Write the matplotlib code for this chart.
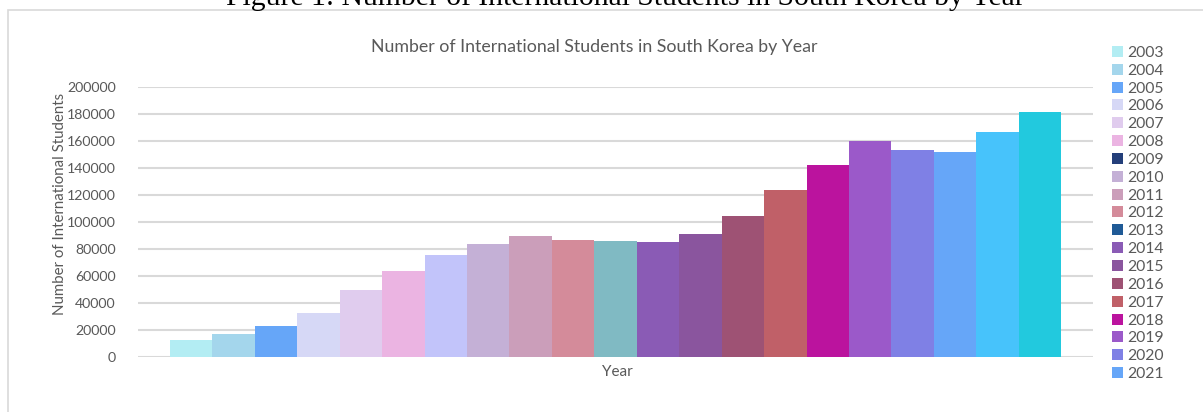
import matplotlib.pyplot as plt
from matplotlib.patches import Patch, Rectangle

years = [str(y) for y in range(2003, 2024)]
students = [12314, 16832, 22526, 32557, 49270, 63952, 75850, 83842, 89537, 86878,
            85923, 84891, 91332, 104262, 123858, 142205, 160165, 153695, 152281,
            166892, 181842]
bar_colors = ['#B3EDF3', '#A4D6EC', '#66A6F8', '#D6D8F6', '#E0CCEE', '#EBB4E2',
              '#C2C4FA', '#C4B0D6', '#CB9EBA', '#D48B9A', '#80BAC3', '#8A5BB5',
              '#8A559E', '#9E5274', '#C06068', '#BB139E', '#9B59C9', '#7F80E5',
              '#66A6F8', '#47C3FB', '#22C9DE']
# legend only has room for 2003-2021
legend_years = years[:19]
legend_colors = bar_colors[:19]
legend_colors[6] = '#243F7A'
legend_colors[10] = '#1F5A96'

grey = '#595959'
grid = '#D9D9D9'
font = 'Lato'

W, H = 1203, 412
fig = plt.figure(figsize=(W / 100, H / 100), dpi=100)

# outer chart frame
fig.patches.append(Rectangle((8 / W, -0.2), 1.2, 1.2 - 10 / H,
                             transform=fig.transFigure, fill=False,
                             edgecolor=grid, lw=1.2))

ax = fig.add_axes([138 / W, 1 - 356.7 / H, (1093 - 138) / W, (356.7 - 87.3) / H])
x = list(range(len(years)))
ax.bar(x, students, width=1.0, color=bar_colors, zorder=3)
ax.set_xlim(-1.25, 21.25)
ax.set_ylim(0, 200000)
ax.set_yticks(range(0, 200001, 20000))
ax.set_yticklabels([str(v) for v in range(0, 200001, 20000)],
                   fontsize=10.2, color=grey, family=font)
ax.set_xticks([])
ax.tick_params(axis='y', length=0, pad=16)
ax.grid(axis='y', color=grid, lw=1.5, zorder=0)
for s in ax.spines.values():
    s.set_visible(False)

fig.text(625 / W, 1 - 5 / H,
         'Figure 1: Number of International Students in South Korea by Year',
         ha='center', va='baseline', fontsize=21.3, family='Liberation Serif',
         color='black')
fig.text(594 / W, 1 - 52 / H, 'Number of International Students in South Korea by Year',
         ha='center', va='baseline', fontsize=12.8, color=grey, family=font)
fig.text(60 / W, 1 - 204 / H, 'Number of International Students', rotation=90,
         ha='center', va='center', fontsize=10.8, color=grey, family=font)
fig.text(617 / W, 1 - 372 / H, 'Year', ha='center', va='center',
         fontsize=11, color=grey, family=font)

handles = [Patch(facecolor=c, edgecolor='none') for c in legend_colors]
fig.legend(handles, legend_years, loc='upper left',
           bbox_to_anchor=(1104 / W, 1 - 38 / H), frameon=False,
           prop={'family': font, 'size': 11.3}, labelcolor=grey,
           handlelength=0.7, handleheight=0.7, handletextpad=0.25,
           labelspacing=0.245, borderpad=0)

fig.savefig('out.png', dpi=100)
